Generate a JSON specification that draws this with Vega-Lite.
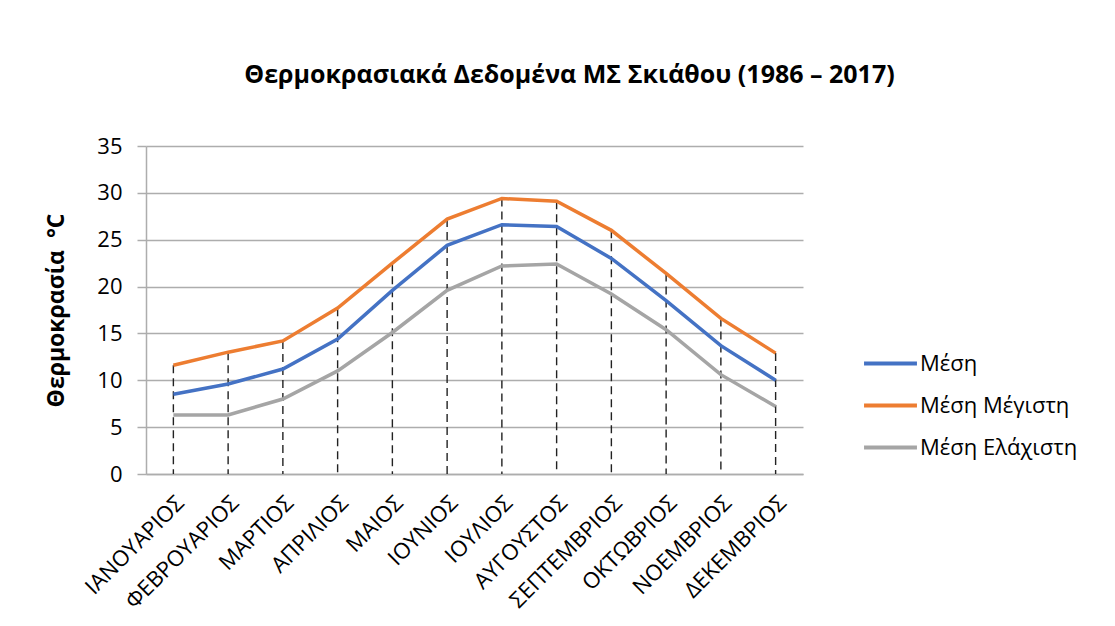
{
  "$schema": "https://vega.github.io/schema/vega-lite/v6.json",
  "width": 657,
  "height": 328,
  "autosize": {"type": "none"},
  "padding": {"left": 146, "top": 146, "right": 312, "bottom": 152},
  "background": "white",
  "title": {
    "text": "Θερμοκρασιακά Δεδομένα ΜΣ Σκιάθου (1986 – 2017)",
    "font": "Open Sans",
    "fontSize": 25,
    "fontWeight": "bold",
    "color": "black",
    "anchor": "middle",
    "frame": "group",
    "dx": 95,
    "offset": 47
  },
  "data": {
    "values": [
      {"month": "ΙΑΝΟΥΑΡΙΟΣ", "series": "Μέση", "value": 8.5},
      {"month": "ΦΕΒΡΟΥΑΡΙΟΣ", "series": "Μέση", "value": 9.6},
      {"month": "ΜΑΡΤΙΟΣ", "series": "Μέση", "value": 11.2},
      {"month": "ΑΠΡΙΛΙΟΣ", "series": "Μέση", "value": 14.4},
      {"month": "ΜΑΙΟΣ", "series": "Μέση", "value": 19.6},
      {"month": "ΙΟΥΝΙΟΣ", "series": "Μέση", "value": 24.4},
      {"month": "ΙΟΥΛΙΟΣ", "series": "Μέση", "value": 26.6},
      {"month": "ΑΥΓΟΥΣΤΟΣ", "series": "Μέση", "value": 26.4},
      {"month": "ΣΕΠΤΕΜΒΡΙΟΣ", "series": "Μέση", "value": 23.0},
      {"month": "ΟΚΤΩΒΡΙΟΣ", "series": "Μέση", "value": 18.5},
      {"month": "ΝΟΕΜΒΡΙΟΣ", "series": "Μέση", "value": 13.7},
      {"month": "ΔΕΚΕΜΒΡΙΟΣ", "series": "Μέση", "value": 10.0},
      {"month": "ΙΑΝΟΥΑΡΙΟΣ", "series": "Μέση Μέγιστη", "value": 11.6},
      {"month": "ΦΕΒΡΟΥΑΡΙΟΣ", "series": "Μέση Μέγιστη", "value": 13.0},
      {"month": "ΜΑΡΤΙΟΣ", "series": "Μέση Μέγιστη", "value": 14.2},
      {"month": "ΑΠΡΙΛΙΟΣ", "series": "Μέση Μέγιστη", "value": 17.7},
      {"month": "ΜΑΙΟΣ", "series": "Μέση Μέγιστη", "value": 22.5},
      {"month": "ΙΟΥΝΙΟΣ", "series": "Μέση Μέγιστη", "value": 27.2},
      {"month": "ΙΟΥΛΙΟΣ", "series": "Μέση Μέγιστη", "value": 29.4},
      {"month": "ΑΥΓΟΥΣΤΟΣ", "series": "Μέση Μέγιστη", "value": 29.1},
      {"month": "ΣΕΠΤΕΜΒΡΙΟΣ", "series": "Μέση Μέγιστη", "value": 26.0},
      {"month": "ΟΚΤΩΒΡΙΟΣ", "series": "Μέση Μέγιστη", "value": 21.4},
      {"month": "ΝΟΕΜΒΡΙΟΣ", "series": "Μέση Μέγιστη", "value": 16.6},
      {"month": "ΔΕΚΕΜΒΡΙΟΣ", "series": "Μέση Μέγιστη", "value": 12.9},
      {"month": "ΙΑΝΟΥΑΡΙΟΣ", "series": "Μέση Ελάχιστη", "value": 6.3},
      {"month": "ΦΕΒΡΟΥΑΡΙΟΣ", "series": "Μέση Ελάχιστη", "value": 6.3},
      {"month": "ΜΑΡΤΙΟΣ", "series": "Μέση Ελάχιστη", "value": 8.0},
      {"month": "ΑΠΡΙΛΙΟΣ", "series": "Μέση Ελάχιστη", "value": 11.0},
      {"month": "ΜΑΙΟΣ", "series": "Μέση Ελάχιστη", "value": 15.1},
      {"month": "ΙΟΥΝΙΟΣ", "series": "Μέση Ελάχιστη", "value": 19.6},
      {"month": "ΙΟΥΛΙΟΣ", "series": "Μέση Ελάχιστη", "value": 22.2},
      {"month": "ΑΥΓΟΥΣΤΟΣ", "series": "Μέση Ελάχιστη", "value": 22.4},
      {"month": "ΣΕΠΤΕΜΒΡΙΟΣ", "series": "Μέση Ελάχιστη", "value": 19.2},
      {"month": "ΟΚΤΩΒΡΙΟΣ", "series": "Μέση Ελάχιστη", "value": 15.4},
      {"month": "ΝΟΕΜΒΡΙΟΣ", "series": "Μέση Ελάχιστη", "value": 10.6},
      {"month": "ΔΕΚΕΜΒΡΙΟΣ", "series": "Μέση Ελάχιστη", "value": 7.2}
    ]
  },
  "encoding": {
    "x": {
      "field": "month",
      "type": "nominal",
      "sort": ["ΙΑΝΟΥΑΡΙΟΣ", "ΦΕΒΡΟΥΑΡΙΟΣ", "ΜΑΡΤΙΟΣ", "ΑΠΡΙΛΙΟΣ", "ΜΑΙΟΣ", "ΙΟΥΝΙΟΣ", "ΙΟΥΛΙΟΣ", "ΑΥΓΟΥΣΤΟΣ", "ΣΕΠΤΕΜΒΡΙΟΣ", "ΟΚΤΩΒΡΙΟΣ", "ΝΟΕΜΒΡΙΟΣ", "ΔΕΚΕΜΒΡΙΟΣ"],
      "scale": {"paddingInner": 0, "paddingOuter": 0},
      "axis": {
        "title": null,
        "labelAngle": -45,
        "labelFont": "Open Sans",
        "labelFontSize": 22,
        "labelColor": "black",
        "labelPadding": 18,
        "ticks": false,
        "grid": false,
        "domainColor": "#ADADAD",
        "domainWidth": 1.5
      }
    },
    "y": {
      "field": "value",
      "type": "quantitative",
      "scale": {"domain": [0, 35]},
      "axis": {
        "title": "Θερμοκρασία\u00a0\u00a0°C",
        "titleFont": "Open Sans",
        "titleFontSize": 23,
        "titleFontWeight": "bold",
        "titleColor": "black",
        "titlePadding": 28,
        "values": [0, 5, 10, 15, 20, 25, 30, 35],
        "labelFont": "Open Sans",
        "labelFontSize": 22,
        "labelColor": "black",
        "labelPadding": 15,
        "tickSize": 9,
        "tickColor": "#ADADAD",
        "tickWidth": 1.5,
        "gridColor": "#ADADAD",
        "gridWidth": 1.5,
        "domainColor": "#ADADAD",
        "domainWidth": 1.5
      }
    }
  },
  "layer": [
    {
      "transform": [{"filter": "datum.series === 'Μέση Μέγιστη'"}],
      "mark": {"type": "rule", "color": "#222222", "strokeDash": [8, 5], "strokeWidth": 1.4},
      "encoding": {"y2": {"datum": 0}}
    },
    {
      "mark": {"type": "line", "strokeWidth": 3.5},
      "encoding": {
        "color": {
          "field": "series",
          "type": "nominal",
          "scale": {"domain": ["Μέση", "Μέση Μέγιστη", "Μέση Ελάχιστη"], "range": ["#4472C4", "#ED7D31", "#A5A5A5"]},
          "legend": {
            "title": null,
            "orient": "none",
            "legendX": 716,
            "legendY": 189,
            "symbolType": "stroke",
            "symbolSize": 2800,
            "symbolStrokeWidth": 4,
            "labelFont": "Open Sans",
            "labelFontSize": 22,
            "labelColor": "black",
            "labelOffset": 1,
            "rowPadding": 2
          }
        }
      }
    }
  ],
  "config": {"view": {"stroke": null}}
}
